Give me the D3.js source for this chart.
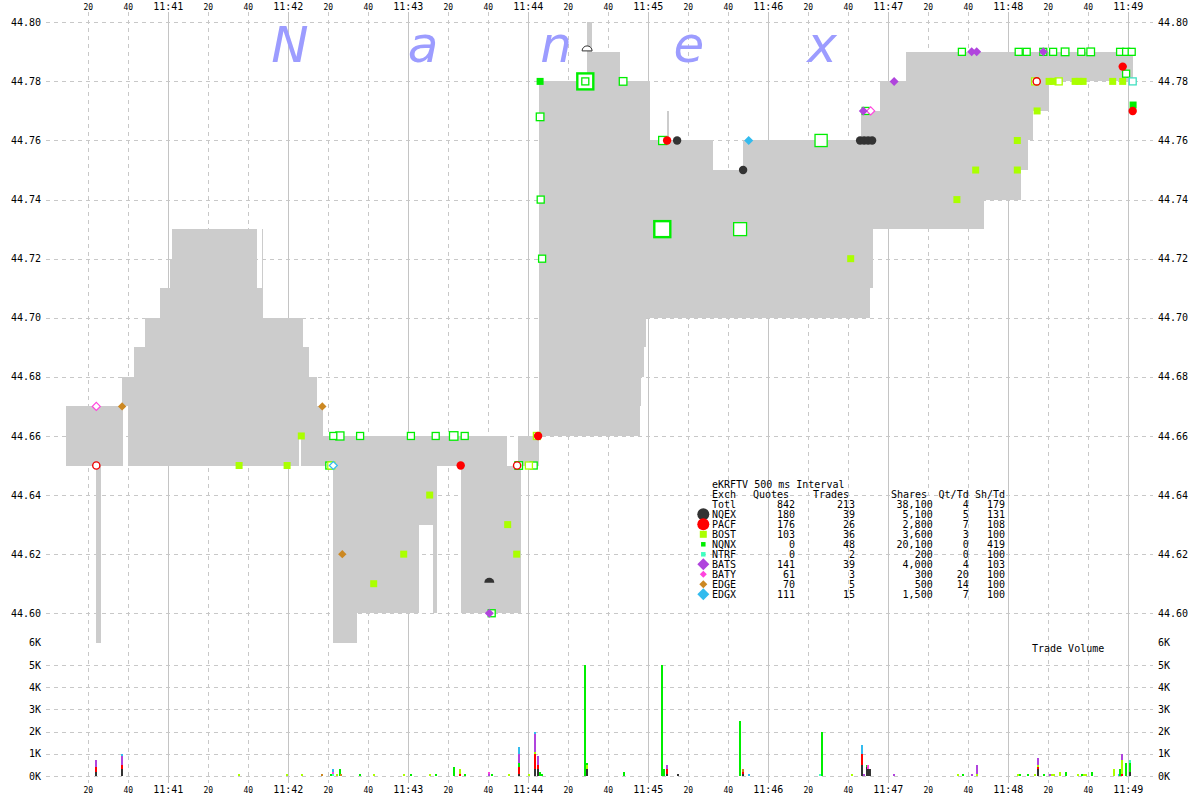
<!DOCTYPE html>
<html><head><meta charset="utf-8">
<script src="https://cdn.jsdelivr.net/npm/d3@7"></script>
<style>body{margin:0;background:#fff;} svg{display:block;} text{font-family:"DejaVu Sans Mono",monospace;fill:#000;}</style>
</head><body><svg id="c" width="1200" height="800"></svg>
<script>
// ---------- DATA (times = seconds after 11:40:00) ----------
const nbboT   = [9,24,26,37,40,43,48.5,56,61,62,104.2,106.6,107,125.4,126.4,127.4,130.4,134.4,137.4,142.4,154.4,185.4,192.5,194.3,206.4,229.4,234.9,236.4,245.4,269.2,271.7,285.9,295.9,296.4,297.9,298.9,300.9,309.4,310.4,332.4,347.4,406.4,410.9,412.2,415.9,428.9,467.9,486.4,489.9,492.2,500,542.2];
const nbboBid = [44.65,44.58,44.65,44.67,44.65,44.65,44.65,44.65,44.65,44.65,44.65,44.65,44.65,44.66,44.65,44.65,44.65,44.65,44.65,44.58,44.60,44.63,44.60,44.65,44.60,44.60,44.60,44.65,44.66,44.66,44.66,44.66,44.67,44.68,44.69,44.70,44.70,44.70,44.70,44.70,44.70,44.70,44.71,44.73,44.73,44.73,44.74,44.75,44.76,44.77,44.78];
const nbboAsk = [44.67,44.67,44.67,44.68,44.68,44.69,44.70,44.71,44.72,44.73,44.71,44.73,44.70,44.70,44.70,44.69,44.68,44.67,44.66,44.66,44.66,44.66,44.66,44.66,44.66,44.65,44.66,44.66,44.78,44.80,44.79,44.78,44.78,44.78,44.78,44.78,44.76,44.77,44.76,44.75,44.76,44.77,44.77,44.77,44.78,44.79,44.79,44.79,44.79,44.79,44.79];

const exCodes  = ['NQEX','PACF','BOST','NQNX','NTRF','BATS','BATY','EDGE','EDGX'];
const exColors = ['#333333','#ff0000','#aaff00','#00ee00','#40ffc0','#b044dd','#ff44dd','#cc8822','#33bbee'];

// trade markers
const nqexT = [314.4,347.4,405.9,407.9,409.9,411.9];
const nqexP = [44.76,44.75,44.76,44.76,44.76,44.76];
const pacfT = [206.2,244.9,309.4,537.2,542.2];
const pacfP = [44.65,44.66,44.76,44.785,44.77];
const bostT = [95.4,119.4,126.5,162.7,177.7,190.7,229.7,234.2,401.2,454.3,463.7,484.5,484.5,494.4,500.4,502.4,513.4,515.4,517.4,532.2,537.2];
const bostP = [44.65,44.65,44.66,44.61,44.62,44.64,44.63,44.62,44.72,44.74,44.75,44.75,44.76,44.77,44.78,44.78,44.78,44.78,44.78,44.78,44.78];
const bostQT = [141.5,240.3,244.3,493.4,505.2];
const bostQP = [44.65,44.65,44.66,44.78,44.78];
const nqnxFT = [245.9,542.4];
const nqnxFP = [44.78,44.772];
const nqnxT  = [140.5,142.5,145.8,155.9,181.3,193.7,202.7,208.2,221.7,235.2,242.7,245.9,246.2,246.9,268.5,268.5,287.4,307.2,307,345.9,386.4,408.7,456.8,485.2,489.2,497.5,502.4,508.4,516.5,521.2,535.9,538.9,541.7,538.9];
const nqnxP  = [44.65,44.66,44.66,44.66,44.66,44.66,44.66,44.66,44.60,44.65,44.65,44.768,44.74,44.72,44.78,44.78,44.78,44.76,44.73,44.73,44.76,44.77,44.79,44.79,44.79,44.79,44.79,44.79,44.79,44.79,44.79,44.79,44.79,44.7826];
const nqnxSz = [100,100,300,100,100,100,400,100,100,200,100,200,100,100,5000,100,200,300,5000,2500,2000,100,100,100,100,100,100,200,100,200,100,100,100,100];
const batsT = [220.5,407.5,422.9,461.7,464.2,497.5];
const batsP = [44.60,44.77,44.78,44.79,44.79,44.79];
const batyT = [24,411.2];
const batyP = [44.67,44.77];
const edgeT = [36.9,137,147];
const edgeP = [44.67,44.67,44.62];
const edgxT = [350.2];
const edgxP = [44.76];
const edgxQT = [142.5];
const edgxQP = [44.65];
const ntrfT = [542.2];
const ntrfP = [44.78];
const ringT = [24,234.4,494.2];
const ringP = [44.65,44.65,44.78];
const domeT = [220.5,269.4];
const domeP = [44.611,44.791];
const domeFilled = [true,false];

// trade volume (stacked by exchange)
const volT  = [23.9,23.9,23.9, 37.1,37.1,37.1,37.1, 95.4,119.4,126.6,137,141.5, 142.5,142.5,142.5, 144.4,145.8,146.5,156,163,178,181.5,191,194,203, 206,206, 208.5, 220.4,220.4, 221.8,230.2,
  235.2,235.2,235.2,235.2,235.2, 240.5, 243.5,243.5,243.5,243.5,243.5, 244.8,244.8,244.8, 245.9,246.9,268.6, 269.6,269.6,269.6, 287.8,307.0,307.9, 309.5,309.5,309.5, 314.8,346.1, 347.5,347.5,347.5, 350.2,385.8,386.6,401.7,
  406.9,406.9,406.9, 407.9, 409.1,409.1, 410.0,410.0, 410.8,422.9,454.8,457.1,461.6, 464.2,464.2, 484.7,485.9,489.7,493.5, 494.7,494.7,494.7,494.7, 498,500.9,501.9,503,505.8,508.8,515.1,516.7,517.6,518.6,521.6,532.8,535.4,535.9,
  536.6,536.6,536.6, 538.7, 540.7,540.7,540.7];
const volEx = ['NQEX','PACF','BATS', 'NQEX','PACF','BATS','EDGX', 'BOST','BOST','BOST','EDGE','NQNX', 'NTRF','BATY','EDGX', 'BOST','NQNX','EDGE','NQNX','BOST','BOST','NQNX','BOST','NQNX','NQNX', 'PACF','BOST', 'NQNX', 'BATS','BATY', 'NQNX','BOST',
  'NQEX','PACF','NQNX','BATS','EDGX', 'BOST', 'NQEX','PACF','BOST','BATS','EDGX', 'NQEX','PACF','BATS', 'NQNX','NQNX','NQNX', 'NQEX','BOST','NQNX', 'NQNX','NQNX','NQNX', 'NQEX','PACF','BATS', 'NQEX','NQNX', 'NQEX','PACF','EDGE', 'EDGX','NTRF','NQNX','BOST',
  'NQEX','PACF','EDGX', 'BATS', 'NQEX','NQNX', 'NQEX','BATY', 'NQEX','BATS','BOST','NQNX','BATS', 'BOST','BATS', 'BOST','NQNX','NQNX','BOST', 'NQEX','PACF','BOST','BATS', 'NQNX','BATS','BOST','BOST','BOST','NQNX','BOST','NQNX','BOST','BOST','NQNX','BOST','EDGX','NQNX',
  'PACF','BOST','BATS', 'NQNX', 'NQEX','NQNX','NTRF'];
const volSz = [200,200,300, 300,200,400,100, 100,100,100,100,100, 100,100,100, 100,300,100,100,100,100,100,100,100,400, 100,200, 100, 100,100, 100,100,
  100,300,200,400,300, 100, 300,700,100,800,100, 300,200,400, 200,100,5000, 300,200,100, 200,5000,300, 100,200,200, 100,2500, 100,100,100, 100,100,2000,100,
  500,500,400, 100, 400,100, 300,200, 300,100,100,100,100, 100,400, 100,100,100,100, 300,100,100,300, 100,100,100,100,200,200,100,100,100,100,200,300,100,300,
  100,600,300, 600, 200,400,100];

// axis ticks
const tickSecs   = d3.range(20, 541, 20);
const priceTicks = d3.range(0, 11).map(i => +(44.60 + i * 0.02).toFixed(2));
const volTicks   = d3.range(0, 7).map(i => i * 1000);

// legend table
const legTitle  = 'eKRFTV 500 ms Interval';
const legHead   = ['Exch','Quotes','Trades','Shares','Qt/Td','Sh/Td'];
const legExch   = ['Totl','NQEX','PACF','BOST','NQNX','NTRF','BATS','BATY','EDGE','EDGX'];
const legQuotes = [842,180,176,103,0,0,141,61,70,111];
const legTrades = [213,39,26,36,48,2,39,3,5,15];
const legShares = ['38,100','5,100','2,800','3,600','20,100','200','4,000','300','500','1,500'];
const legQtTd   = [4,5,7,3,0,0,4,20,14,7];
const legShTd   = [179,131,108,100,419,100,103,100,100,100];
const watermark = ['N','a','n','e','x'];

// ---------- SCALES ----------
const base = new Date(2000,0,1,11,40,0);
const T = s => new Date(base.getTime() + s * 1000);
const x  = d3.scaleTime().domain([T(0), T(540)]).range([48.3, 1128.3]);
const y  = d3.scaleLinear().domain([44.59, 44.80]).range([642.8, 22.3]);
const yv = d3.scaleLinear().domain([0, 6000]).range([776, 642.8]);
const col = d3.scaleOrdinal().domain(exCodes).range(exColors);
const sqSize = d3.scaleSqrt().domain([100, 5000]).range([7, 16]).clamp(true);

const svg = d3.select('#c');
const X0 = 46, X1 = 1153;

// ---------- GRID ----------
const grid = svg.append('g');
grid.selectAll('line.v').data(tickSecs).join('line')
  .attr('x1', s => Math.round(x(T(s))) + 0.5).attr('x2', s => Math.round(x(T(s))) + 0.5)
  .attr('y1', 12).attr('y2', 783)
  .attr('stroke', s => s % 60 === 0 ? '#c4c4c4' : '#c8c8c8')
  .attr('stroke-dasharray', s => s % 60 === 0 ? null : '4,4');
grid.selectAll('line.p').data(priceTicks).join('line')
  .attr('x1', X0).attr('x2', X1)
  .attr('y1', p => Math.round(y(p)) + 0.5).attr('y2', p => Math.round(y(p)) + 0.5)
  .attr('stroke', '#c8c8c8').attr('stroke-dasharray', '4,4');
grid.selectAll('line.q').data(volTicks.slice(0, 6)).join('line')
  .attr('x1', X0).attr('x2', X1)
  .attr('y1', v => Math.round(yv(v)) + 0.5).attr('y2', v => Math.round(yv(v)) + 0.5)
  .attr('stroke', '#c8c8c8').attr('stroke-dasharray', '4,4');

// ---------- WATERMARK ----------
const wm = d3.scalePoint().domain(d3.range(watermark.length)).range([290, 822]);
svg.append('g').selectAll('text').data(watermark).join('text')
  .attr('x', (d, i) => wm(i)).attr('y', 62).attr('text-anchor', 'middle')
  .style('font-family', '"DejaVu Sans", sans-serif').style('font-style', 'italic')
  .attr('font-size', 50).style('fill', '#9c9cff').text(d => d);

// ---------- NBBO AREA ----------
svg.append('clipPath').attr('id', 'pc').append('rect')
  .attr('x', X0).attr('y', 22).attr('width', X1 - X0).attr('height', 643 - 22);
const segs = nbboBid.map((b, i) => ({t0: nbboT[i], t1: nbboT[i + 1], bid: b, ask: nbboAsk[i]}));
svg.append('g').attr('clip-path', 'url(#pc)').attr('shape-rendering', 'crispEdges')
  .selectAll('rect').data(segs).join('rect')
  .attr('x', d => x(T(d.t0))).attr('width', d => x(T(d.t1)) - x(T(d.t0)) + 0.3)
  .attr('y', d => y(d.ask)).attr('height', d => y(d.bid) - y(d.ask))
  .attr('fill', '#cccccc');

// ---------- VOLUME ----------
const volRows = volT.map((t, i) => ({t, ex: volEx[i], sz: volSz[i]}));
const volStack = [];
d3.groups(volRows, d => d.t).forEach(([t, rows]) => {
  rows.sort((a, b) => exCodes.indexOf(a.ex) - exCodes.indexOf(b.ex));
  let acc = 0;
  rows.forEach(r => { volStack.push({t, ex: r.ex, v0: acc, v1: acc + r.sz}); acc += r.sz; });
});
svg.append('g').attr('shape-rendering', 'crispEdges').selectAll('rect').data(volStack).join('rect')
  .attr('x', d => Math.round(x(T(d.t))) - 1).attr('width', 2)
  .attr('y', d => yv(d.v1)).attr('height', d => yv(d.v0) - yv(d.v1))
  .attr('fill', d => col(d.ex));

// ---------- MARKERS ----------
const mk = svg.append('g');
const diamond = r => `M0,${-r}L${r},0L0,${r}L${-r},0Z`;
const pts = (ts, ps) => ts.map((t, i) => ({t, p: ps[i]}));
function squares(data, size, fill, stroke, sw) {
  mk.append('g').selectAll('rect').data(data).join('rect')
    .attr('x', d => x(T(d.t)) - (d.s || size) / 2).attr('y', d => y(d.p) - (d.s || size) / 2)
    .attr('width', d => d.s || size).attr('height', d => d.s || size)
    .attr('fill', fill).attr('stroke', stroke).attr('stroke-width', d => d.sw || sw);
}
function diamonds(data, r, fill, stroke, sw) {
  mk.append('g').selectAll('path').data(data).join('path')
    .attr('transform', d => `translate(${x(T(d.t))},${y(d.p)})`).attr('d', diamond(r))
    .attr('fill', fill).attr('stroke', stroke).attr('stroke-width', sw);
}
function circles(data, r, fill, stroke, sw) {
  mk.append('g').selectAll('circle').data(data).join('circle')
    .attr('cx', d => x(T(d.t))).attr('cy', d => y(d.p)).attr('r', r)
    .attr('fill', fill).attr('stroke', stroke).attr('stroke-width', sw);
}
const nq = nqnxT.map((t, i) => ({t, p: nqnxP[i], s: sqSize(nqnxSz[i]), sw: nqnxSz[i] >= 5000 ? 2.4 : 1.3}));
nq.sort((a, b) => b.s - a.s);
squares(nq, 7, '#fff', '#00ee00', 1.3);
squares(pts(bostQT, bostQP), 7, '#fff', '#aaff00', 1.3);
squares(pts(bostT, bostP), 7, '#aaff00', 'none', 0);
squares(pts(nqnxFT, nqnxFP), 7, '#00ee00', 'none', 0);
squares(pts(ntrfT, ntrfP), 7, '#fff', '#40e0c0', 1.3);
circles(pts(ringT, ringP), 3.6, '#fff', '#ee0000', 1.4);
diamonds(pts(batyT, batyP), 4, '#fff', '#ff44dd', 1.2);
diamonds(pts(edgxQT, edgxQP), 4, '#fff', '#33bbee', 1.2);
diamonds(pts(edgeT, edgeP), 4.2, '#cc8822', 'none', 0);
diamonds(pts(edgxT, edgxP), 4.5, '#33bbee', 'none', 0);
diamonds(pts(batsT, batsP), 4.5, '#b044dd', 'none', 0);
circles(pts(nqexT, nqexP), 4.2, '#333333', 'none', 0);
circles(pts(pacfT, pacfP), 4.2, '#ff0000', 'none', 0);
mk.append('g').selectAll('path').data(domeT.map((t, i) => ({t, p: domeP[i], f: domeFilled[i]}))).join('path')
  .attr('transform', d => `translate(${x(T(d.t))},${y(d.p)})`)
  .attr('d', 'M-5,2A5,5 0 0 1 5,2Z')
  .attr('fill', d => d.f ? '#333' : '#fff').attr('stroke', '#333').attr('stroke-width', d => d.f ? 0 : 1);

// ---------- AXIS LABELS ----------
const lab = svg.append('g');
[9.6, 792.6].forEach(yy => {
  lab.append('g').selectAll('text').data(tickSecs).join('text')
    .attr('x', s => x(T(s))).attr('y', yy).attr('text-anchor', 'middle')
    .attr('font-size', s => s % 60 === 0 ? 10 : 8)
    .text(s => s % 60 === 0 ? d3.timeFormat('%H:%M')(T(s)) : String(s % 60));
});
[[41, 'end'], [1158, 'start']].forEach(([xx, anc]) => {
  lab.append('g').selectAll('text').data(priceTicks).join('text')
    .attr('x', xx).attr('y', p => y(p) + 3.6).attr('text-anchor', anc).attr('font-size', 10)
    .text(p => p.toFixed(2));
  lab.append('g').selectAll('text').data(volTicks).join('text')
    .attr('x', xx).attr('y', v => yv(v) + 3.6).attr('text-anchor', anc).attr('font-size', 10)
    .text(v => (v / 1000) + 'K');
});
lab.append('text').attr('x', 1032).attr('y', 651.5).attr('font-size', 10).text('Trade Volume');

// ---------- LEGEND ----------
const lg = svg.append('g').attr('font-size', 10);
lg.append('text').attr('x', 712).attr('y', 487.9).text(legTitle);
const headX = [712, 789, 849, 927, 968.7, 1005];
lg.selectAll('text.h').data(legHead).join('text')
  .attr('x', (d, i) => headX[i]).attr('y', 498.1).attr('text-anchor', (d, i) => i === 0 ? 'start' : 'end').text(d => d);
const rowY = i => 507.9 + i * 10;
const colX = [795, 855, 932.7, 968.7, 1005];
const cols = [legQuotes, legTrades, legShares, legQtTd, legShTd];
lg.selectAll('text.e').data(legExch).join('text').attr('x', 712).attr('y', (d, i) => rowY(i)).text(d => d);
cols.forEach((arr, c) => {
  lg.append('g').selectAll('text').data(arr).join('text')
    .attr('x', colX[c]).attr('y', (d, i) => rowY(i)).attr('text-anchor', 'end').text(d => d);
});
const legShapes = [['c', 6], ['c', 6], ['s', 7], ['s', 4.5], ['s', 4.5], ['d', 6], ['d', 3.5], ['d', 4], ['d', 6]];
legShapes.forEach(([k, r], i) => {
  const cy = rowY(i + 1) - 3.6, cx = 703.3, c = exColors[i];
  if (k === 'c') lg.append('circle').attr('cx', cx).attr('cy', cy).attr('r', r).attr('fill', c);
  else if (k === 's') lg.append('rect').attr('x', cx - r / 2).attr('y', cy - r / 2).attr('width', r).attr('height', r).attr('fill', c);
  else lg.append('path').attr('transform', `translate(${cx},${cy})`).attr('d', diamond(r)).attr('fill', c);
});
</script></body></html>
